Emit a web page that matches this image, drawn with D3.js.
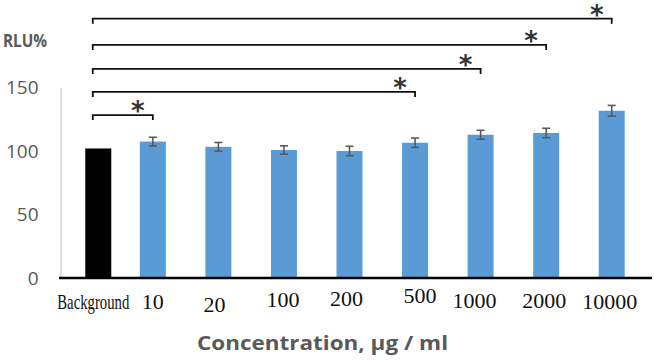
<!DOCTYPE html>
<html>
<head>
<meta charset="utf-8">
<script src="https://cdn.jsdelivr.net/npm/d3@7"></script>
<style>
  body { margin: 0; background: #fff; }
  svg { display: block; }
</style>
</head>
<body>
<div id="chart"></div>
<script>
// data
var categories = ["Background", "10", "20", "100", "200", "500", "1000", "2000", "10000"];
var series = ["sample", "control"];
var controlValues = [102];                       // Background only
var sampleValues = [null, 107.4, 103.3, 100.8, 100, 106.5, 112.8, 114.2, 131.7];
var sampleErrors = [null, 3.4, 3.4, 3.3, 3.7, 3.7, 3.5, 3.7, 4.2];
var yTicks = [0, 50, 100, 150];
// significance brackets: compared category pairs and their height in RLU%
var sigPairs = [["Background", "10"], ["Background", "500"], ["Background", "1000"], ["Background", "2000"], ["Background", "10000"]];
var sigLevels = [128.3, 146.5, 164.6, 183.5, 204.2];

var w = 654, h = 361;
var svg = d3.select("#chart").append("svg")
    .attr("width", w)
    .attr("height", h);

var plotLeft = 60, plotRight = 650, plotBottom = 278, plotTop = 87.5;
var barWidth = 26, seriesShift = 5.5;   // the two series overlap inside each category

var x0 = d3.scaleBand()
    .domain(categories)
    .range([plotLeft, plotRight]);

var yScale = d3.scaleLinear()
    .domain([0, 150])
    .range([plotBottom, plotTop]);

// centre of a bar for a series inside its category
function barCenter(cat, s) {
    var c = x0(cat) + x0.bandwidth() / 2;
    return s === "sample" ? c - seriesShift : c + seriesShift;
}

// y axis (labels + light grey line)
var yAxis = svg.append("g")
    .attr("transform", `translate(${plotLeft + 0.5},0)`)
    .call(d3.axisLeft(yScale).tickValues(yTicks).tickSize(0).tickSizeOuter(0).tickPadding(22));
yAxis.select(".domain").attr("stroke", "#bfbfbf").attr("stroke-width", 1);
yAxis.selectAll("text")
    .style("font-family", "'Open Sans', sans-serif")
    .style("font-size", "19px")
    .style("fill", "#595959");

// bars
var sampleData = categories.map((c, i) => ({ cat: c, v: sampleValues[i], e: sampleErrors[i] }))
    .filter(d => d.v != null);

svg.selectAll(".bar.control")
    .data(controlValues.map((v, i) => ({ cat: categories[i], v: v })))
    .enter().append("rect")
    .attr("class", "bar control")
    .attr("x", d => barCenter(d.cat, "control") - barWidth / 2)
    .attr("y", d => yScale(d.v))
    .attr("width", barWidth)
    .attr("height", d => yScale(0) - yScale(d.v))
    .style("fill", "#000");

svg.selectAll(".bar.sample")
    .data(sampleData)
    .enter().append("rect")
    .attr("class", "bar sample")
    .attr("x", d => barCenter(d.cat, "sample") - barWidth / 2)
    .attr("y", d => yScale(d.v))
    .attr("width", barWidth)
    .attr("height", d => yScale(0) - yScale(d.v))
    .style("fill", "#5b9bd5");

// error bars
var err = svg.selectAll(".err")
    .data(sampleData)
    .enter().append("g")
    .attr("class", "err")
    .style("stroke", "#595959")
    .style("stroke-width", 1.6);
err.append("line")
    .attr("x1", d => barCenter(d.cat, "sample"))
    .attr("x2", d => barCenter(d.cat, "sample"))
    .attr("y1", d => yScale(d.v - d.e))
    .attr("y2", d => yScale(d.v + d.e));
[-1, 1].forEach(function(sign) {
    err.append("line")
        .attr("x1", d => barCenter(d.cat, "sample") - 4)
        .attr("x2", d => barCenter(d.cat, "sample") + 4)
        .attr("y1", d => yScale(d.v + sign * d.e))
        .attr("y2", d => yScale(d.v + sign * d.e));
});

// base line
svg.append("line")
    .attr("x1", plotLeft - 1)
    .attr("x2", plotRight + 2)
    .attr("y1", plotBottom)
    .attr("y2", plotBottom)
    .style("stroke", "#000")
    .style("stroke-width", 2.5);

// category labels (hand placed text boxes in the original, nudged a little)
var labelNudge = [[-5, 31], [0, 31], [-4, 34], [-1, 29], [-3, 28], [5, 25], [-6, 30], [-2, 30], [-2, 31]];
svg.selectAll(".cat-label")
    .data(categories)
    .enter().append("text")
    .attr("class", "cat-label")
    .attr("text-anchor", "middle")
    .attr("transform", (d, i) => `translate(${barCenter(d, i === 0 ? "control" : "sample") + labelNudge[i][0]},${plotBottom + labelNudge[i][1]})`)
    .style("font-family", "'Liberation Serif', 'Times New Roman', serif")
    .style("font-size", (d, i) => i === 0 ? "21px" : "22px")
    .style("fill", "#111")
    .text(d => d)
    .each(function(d, i) {
        // the "Background" box is squeezed horizontally in the original
        if (i === 0) {
            var sx = 72 / this.getComputedTextLength();
            var t = d3.select(this);
            t.attr("transform", t.attr("transform") + ` scale(${sx},1)`);
        }
    });

// significance brackets
var tick = 5;
var brackets = svg.selectAll(".sig")
    .data(sigPairs.map((p, i) => ({ a: p[0], b: p[1], level: sigLevels[i] })))
    .enter().append("g")
    .attr("class", "sig");
brackets.append("path")
    .attr("d", function(d) {
        var xa = x0(d.a) + x0.bandwidth() / 2;
        var xb = barCenter(d.b, "sample");
        var y = yScale(d.level);
        return `M${xa},${y + tick}V${y}H${xb}V${y + tick}`;
    })
    .style("fill", "none")
    .style("stroke", "#111")
    .style("stroke-width", 1.8);
brackets.append("text")
    .attr("x", d => barCenter(d.b, "sample") - 15)
    .attr("y", d => yScale(d.level) + 5)
    .attr("text-anchor", "middle")
    .style("font-family", "'DejaVu Sans', sans-serif")
    .style("font-weight", "bold")
    .style("font-size", "26px")
    .style("fill", "#333")
    .text("*");

// axis titles
svg.append("text")
    .attr("x", 3)
    .attr("y", 47)
    .attr("textLength", 44)
    .attr("lengthAdjust", "spacingAndGlyphs")
    .style("font-family", "'Open Sans', sans-serif")
    .style("font-weight", "bold")
    .style("font-size", "18px")
    .style("fill", "#595959")
    .text("RLU%");

svg.append("text")
    .attr("x", 197)
    .attr("y", 350)
    .attr("textLength", 251)
    .attr("lengthAdjust", "spacingAndGlyphs")
    .style("font-family", "'Open Sans', sans-serif")
    .style("font-weight", "bold")
    .style("font-size", "20px")
    .style("fill", "#595959")
    .text("Concentration, µg / ml");
</script>
</body>
</html>
